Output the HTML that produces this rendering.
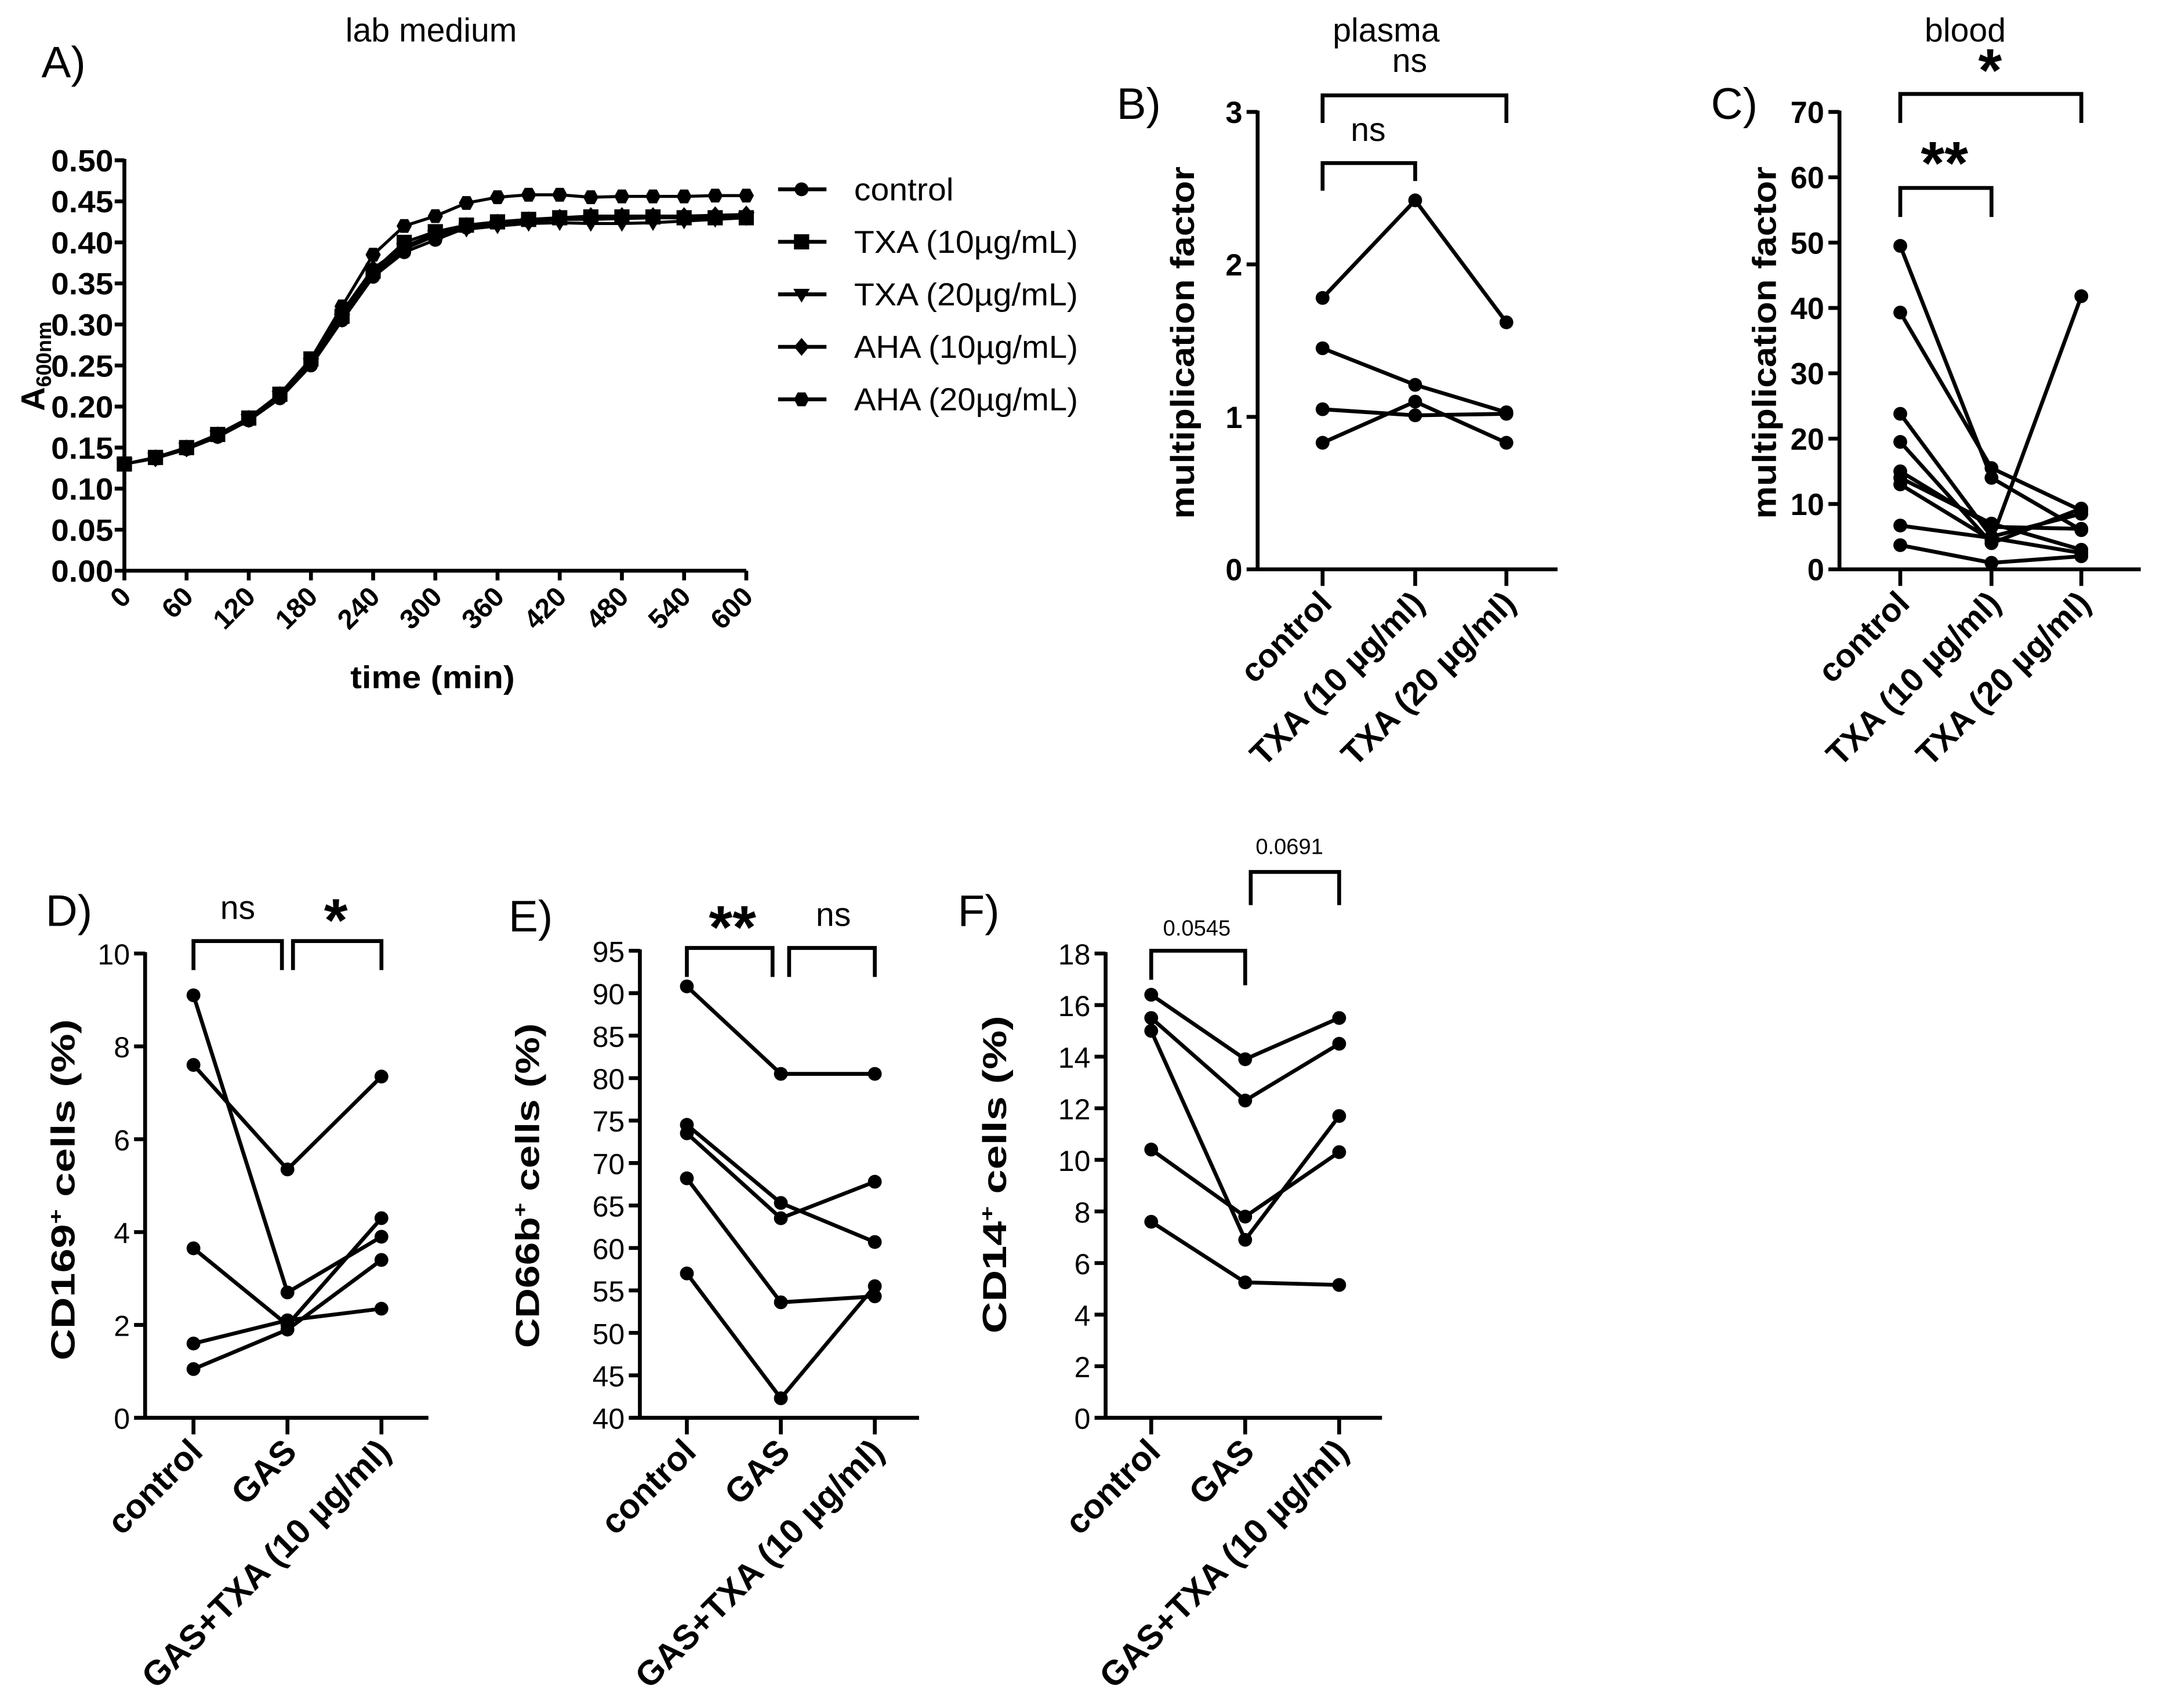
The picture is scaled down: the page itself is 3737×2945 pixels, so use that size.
<!DOCTYPE html>
<html><head><meta charset="utf-8"><style>
html,body{margin:0;padding:0;background:#fff}
svg{display:block}
text{font-family:"Liberation Sans",Arial,sans-serif;fill:#000}
.n{font-family:"Liberation Sans Narrow","Liberation Sans",sans-serif;font-weight:bold}
.b{font-weight:bold}
</style></head><body>
<svg id="fig" width="3737" height="2945" viewBox="0 0 1568 1236" preserveAspectRatio="none" xmlns="http://www.w3.org/2000/svg"></svg>
<script>
// ---- Panel A data ----
const timesA = [0,30,60,90,120,150,180,210,240,270,300,330,360,390,420,450,480,510,540,570,600];
const seriesNamesA = ["control","TXA (10µg/mL)","TXA (20µg/mL)","AHA (10µg/mL)","AHA (20µg/mL)"];
const controlA = [0.13,0.137,0.148,0.163,0.183,0.21,0.25,0.305,0.358,0.388,0.403,0.418,0.424,0.426,0.428,0.428,0.429,0.430,0.430,0.431,0.432];
const txa10A   = [0.13,0.138,0.150,0.166,0.186,0.215,0.258,0.31,0.365,0.40,0.413,0.421,0.425,0.428,0.430,0.431,0.431,0.431,0.430,0.430,0.430];
const txa20A   = [0.13,0.137,0.149,0.164,0.184,0.212,0.252,0.306,0.362,0.392,0.408,0.416,0.420,0.423,0.424,0.423,0.423,0.424,0.426,0.428,0.430];
const aha10A   = [0.13,0.137,0.149,0.165,0.185,0.214,0.255,0.315,0.368,0.395,0.410,0.420,0.424,0.427,0.430,0.432,0.432,0.432,0.432,0.433,0.434];
const aha20A   = [0.13,0.137,0.149,0.165,0.185,0.215,0.258,0.322,0.385,0.420,0.432,0.448,0.455,0.458,0.458,0.455,0.456,0.456,0.456,0.457,0.457];
const yTicksA = ["0.00","0.05","0.10","0.15","0.20","0.25","0.30","0.35","0.40","0.45","0.50"];
const xTicksA = [0,60,120,180,240,300,360,420,480,540,600];
// ---- Panel B ----
const catsB = ["control","TXA (10 µg/ml)","TXA (20 µg/ml)"];
const subjB = [[1.78,2.42,1.62],[1.45,1.21,1.03],[1.05,1.01,1.02],[0.83,1.10,0.83]];
const yTicksB = [0,1,2,3];
// ---- Panel C ----
const subjC = [[49.5,14,6],[39.3,15.5,9],[23.8,5,8.5],[19.5,4,9.3],[15,6.5,6.2],[14,7,3],[13,4.5,41.8],[6.7,4.8,2.5],[3.7,1,2]];
const yTicksC = [0,10,20,30,40,50,60,70];
// ---- Panels D,E,F ----
const catsDEF = ["control","GAS","GAS+TXA (10 µg/ml)"];
const subjD = [[7.6,5.35,7.35],[9.1,2.7,3.9],[3.65,2.0,4.3],[1.6,2.1,2.35],[1.05,1.9,3.4]];
const yTicksD = [0,2,4,6,8,10];
const subjE = [[90.8,80.5,80.5],[74.5,65.3,60.7],[73.5,63.5,67.8],[68.2,53.6,54.3],[57,42.3,55.5]];
const yTicksE = [40,45,50,55,60,65,70,75,80,85,90,95];
const subjF = [[16.4,13.9,15.5],[15.5,12.3,14.5],[15,6.9,11.7],[10.4,7.8,10.3],[7.6,5.25,5.15]];
const yTicksF = [0,2,4,6,8,10,12,14,16,18];

const svg = document.getElementById('fig');
const NS = 'http://www.w3.org/2000/svg';
function el(tag, attrs, parent){const e=document.createElementNS(NS,tag);for(const k in attrs)e.setAttribute(k,attrs[k]);(parent||svg).appendChild(e);return e;}
function txt(s,x,y,size,cls,parent,anchor){const t=el('text',{x:x,y:y,'font-size':size,'text-anchor':anchor||'middle'},parent);if(cls)t.setAttribute('class',cls);t.textContent=s;return t;}
function line(x1,y1,x2,y2,w,parent){return el('line',{x1:x1,y1:y1,x2:x2,y2:y2,stroke:'#000','stroke-width':w||2.8},parent);}

// ===== Panel A =====
(function(){
  const g=el('g',{});
  
  
  const X0=90,X1=540,Y0=413,Y1=116;
  const xs=t=>X0+(t-0)/600*(X1-X0);
  const ys=v=>Y0-(v-0)/0.5*(Y0-Y1);
  const lab=txt('A)',30,56,32,null,g,'start');  
  const ttl=txt('lab medium',312,30,24,null,g);  
  line(X0,Y0,X0,Y1-1,2.8,g); line(X0-1,Y0,X1,Y0,2.8,g);
  yTicksA.forEach(s=>{const y=ys(parseFloat(s));line(X0-7,y,X0,y,2.8,g);
    const t=txt(s,X0-8,y+8,22,'n',g,'end'); t.setAttribute('textLength','45'); t.setAttribute('lengthAdjust','spacingAndGlyphs');
     });
  xTicksA.forEach(v=>{const x=xs(v);line(x,Y0,x,Y0+7,2.8,g);
    const t=txt(String(v),0,0,20,'n',g,'end'); t.setAttribute('transform',`translate(${x+6},${Y0+20}) rotate(-45)`);
     });
  const xt=txt('time (min)',313,498,23,'n',g); xt.setAttribute('textLength','119'); xt.setAttribute('lengthAdjust','spacingAndGlyphs');
   
  const yt=el('text',{transform:'translate(32,265) rotate(-90)','font-size':24,'text-anchor':'middle',class:'b'},g);
   
  yt.innerHTML='A<tspan font-size="15" dy="5">600nm</tspan>';
  const all=[controlA,txa10A,txa20A,aha10A,aha20A];
  const shapes=['circle','square','tri','diamond','hex'];
  function marker(shape,x,y,parent){
    if(shape==='circle')return el('circle',{cx:x,cy:y,r:5,fill:'#000'},parent);
    if(shape==='square')return el('rect',{x:x-5.5,y:y-5.5,width:11,height:11,fill:'#000'},parent);
    if(shape==='tri')return el('polygon',{points:`${x-6},${y-4} ${x+6},${y-4} ${x},${y+6}`,fill:'#000'},parent);
    if(shape==='diamond')return el('polygon',{points:`${x},${y-6.5} ${x+5.5},${y} ${x},${y+6.5} ${x-5.5},${y}`,fill:'#000'},parent);
    return el('polygon',{points:`${x-5.5},${y} ${x-2.8},${y-5} ${x+2.8},${y-5} ${x+5.5},${y} ${x+2.8},${y+5} ${x-2.8},${y+5}`,fill:'#000'},parent);
  }
  all.forEach((ser,i)=>{
    const sg=el('g',{},g);
    
    
    el('polyline',{points:ser.map((v,j)=>xs(timesA[j])+','+ys(v)).join(' '),fill:'none',stroke:'#000','stroke-width':2.2},sg);
    ser.forEach((v,j)=>marker(shapes[i],xs(timesA[j]),ys(v),sg));
  });
  const legLen=[72,162,162,162,162];
  seriesNamesA.forEach((n,i)=>{
    const lg=el('g',{},g);
    
    
    const y=137+i*38;
    line(563,y,598,y,2.8,lg); marker(shapes[i],580,y,lg);
    const t=txt(n,618,y+8,23,null,lg,'start'); t.setAttribute('textLength',legLen[i]); t.setAttribute('lengthAdjust','spacingAndGlyphs');
  });
})();

// ===== paired panels =====
function paired(opt){
  const g=el('g',{});
  
  
  const {ax,x0,x1,y0,y1,vmin,vmax,cx}=opt;
  const ys=v=>y0-(v-vmin)/(vmax-vmin)*(y0-y1);
  const xs=i=>cx[i];
  const pl=txt(opt.label,opt.labelX,opt.labelY,32,null,g,'start');  
  if(opt.title){const t=txt(opt.title,opt.titleX,30,24,null,g);  }
  line(ax,y0+1,ax,y1-1,2.8,g); line(ax-1,y0,x1,y0,2.8,g);
  opt.yTicks.forEach(v=>{const y=ys(v);line(ax-8,y,ax,y,2.8,g);
    const t=txt(String(v),ax-11,y+8,opt.tickSize,opt.tickCls,g,'end');  });
  opt.cats.forEach((c,i)=>{const x=xs(i);line(x,y0,x,y0+12,2.8,g);
    const t=txt(c,0,0,opt.catSize,'b',g,'end'); t.setAttribute('transform',`translate(${x+8},${y0+26}) rotate(-45)`);
     });
  const yt=txt(opt.yTitle,0,0,24,'b',g); yt.setAttribute('transform',`translate(${opt.yTitleX},${opt.yTitleY}) rotate(-90)`);
   
  if(opt.yTitleHtml) yt.innerHTML=opt.yTitleHtml;
  yt.setAttribute('textLength',opt.yTitleLen); yt.setAttribute('lengthAdjust','spacingAndGlyphs');
  opt.data.forEach((s,k)=>{
    const sg=el('g',{},g);
    
    
    el('polyline',{points:s.map((v,i)=>xs(i)+','+ys(v)).join(' '),fill:'none',stroke:'#000','stroke-width':2.8},sg);
    s.forEach((v,i)=>el('circle',{cx:xs(i),cy:ys(v),r:5,fill:'#000'},sg));
  });
  opt.brackets.forEach(b=>{
    const bg=el('g',{},g);
    
    
    el('polyline',{points:`${b.xa},${b.dropA} ${b.xa},${b.y} ${b.xb},${b.y} ${b.xb},${b.dropB}`,fill:'none',stroke:'#000','stroke-width':2.8},bg);
    txt(b.t,b.tx,b.ty,b.size,b.cls,bg);
  });
}
paired({name:'panel-b-plasma',label:'B)',labelX:808,labelY:86,title:'plasma',titleX:1003,ax:910,x0:910,x1:1127,y0:412,y1:81,vmin:0,vmax:3,cx:[957,1024,1090],
  yTicks:yTicksB,tickSize:22,tickCls:'n',cats:catsB,catSize:24,yTitle:'multiplication factor',yTitleX:864,yTitleY:248,yTitleLen:255,data:subjB,
  brackets:[{xa:957,xb:1090,y:69,dropA:89,dropB:89,t:'ns',tx:1020,ty:52,size:24},
            {xa:957,xb:1024,y:118,dropA:138,dropB:131,t:'ns',tx:990,ty:102,size:24}]});
paired({name:'panel-c-blood',label:'C)',labelX:1238,labelY:86,title:'blood',titleX:1422,ax:1331,x0:1331,x1:1549,y0:412,y1:81,vmin:0,vmax:70,cx:[1375,1441,1506],
  yTicks:yTicksC,tickSize:22,tickCls:'n',cats:catsB,catSize:24,yTitle:'multiplication factor',yTitleX:1285,yTitleY:248,yTitleLen:255,data:subjC,
  brackets:[{xa:1375,xb:1506,y:68,dropA:89,dropB:89,t:'*',tx:1440,ty:66,size:44,cls:'b'},
            {xa:1375,xb:1441,y:136,dropA:157,dropB:157,t:'**',tx:1407,ty:133,size:44,cls:'b'}]});
paired({name:'panel-d-cd169',label:'D)',labelX:33,labelY:670,ax:105,x0:105,x1:310,y0:1026,y1:690,vmin:0,vmax:10,cx:[140,208,276],
  yTicks:yTicksD,tickSize:21,tickCls:null,cats:catsDEF,catSize:25,yTitle:'',yTitleX:54,yTitleY:861,yTitleLen:247,data:subjD,
  yTitleHtml:'CD169<tspan font-size="14" dy="-9">+</tspan><tspan dy="9"> cells (%)</tspan>',
  brackets:[{xa:140,xb:204,y:681,dropA:702,dropB:702,t:'ns',tx:172,ty:665,size:24},
            {xa:212,xb:276,y:681,dropA:702,dropB:702,t:'*',tx:243,ty:681,size:44,cls:'b'}]});
paired({name:'panel-e-cd66b',label:'E)',labelX:368,labelY:674,ax:463,x0:463,x1:665,y0:1026,y1:688,vmin:40,vmax:95,cx:[497,565,633],
  yTicks:yTicksE,tickSize:21,tickCls:null,cats:catsDEF,catSize:25,yTitle:'',yTitleX:390,yTitleY:858,yTitleLen:235,data:subjE,
  yTitleHtml:'CD66b<tspan font-size="14" dy="-9">+</tspan><tspan dy="9"> cells (%)</tspan>',
  brackets:[{xa:497,xb:559,y:686,dropA:707,dropB:707,t:'**',tx:530,ty:686,size:44,cls:'b'},
            {xa:571,xb:633,y:686,dropA:707,dropB:707,t:'ns',tx:603,ty:670,size:24}]});
paired({name:'panel-f-cd14',label:'F)',labelX:693,labelY:670,ax:800,x0:800,x1:1000,y0:1026,y1:690,vmin:0,vmax:18,cx:[833,901,969],
  yTicks:yTicksF,tickSize:21,tickCls:null,cats:catsDEF,catSize:25,yTitle:'',yTitleX:728,yTitleY:850,yTitleLen:230,data:subjF,
  yTitleHtml:'CD14<tspan font-size="14" dy="-9">+</tspan><tspan dy="9">  cells (%)</tspan>',
  brackets:[{xa:833,xb:901,y:688,dropA:709,dropB:713,t:'0.0545',tx:866,ty:677,size:16},
            {xa:905,xb:969,y:631,dropA:655,dropB:655,t:'0.0691',tx:933,ty:618,size:16}]});
</script>
</body></html>
